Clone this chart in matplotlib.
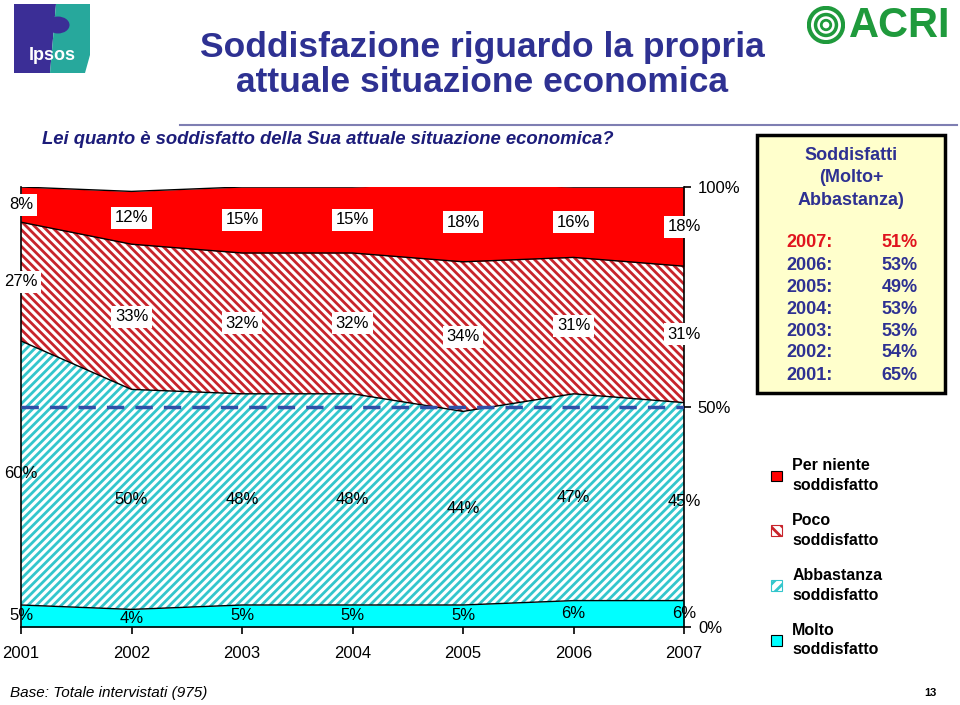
import numpy as np
import matplotlib.pyplot as plt
from matplotlib.patches import Rectangle, Polygon, Patch, Circle

plt.rcParams['font.family'] = ['Liberation Sans', 'DejaVu Sans']
plt.rcParams['hatch.linewidth'] = 2.0

# data (percent of respondents)
years = [2001, 2002, 2003, 2004, 2005, 2006, 2007]
molto = [5, 4, 5, 5, 5, 6, 6]
abbastanza = [60, 50, 48, 48, 44, 47, 45]
poco = [27, 33, 32, 32, 34, 31, 31]
per_niente = [8, 12, 15, 15, 18, 16, 18]
series_names = ['Molto\nsoddisfatto', 'Abbastanza\nsoddisfatto',
                'Poco\nsoddisfatto', 'Per niente\nsoddisfatto']

title = 'Soddisfazione riguardo la propria\nattuale situazione economica'
question = 'Lei quanto è soddisfatto della Sua attuale situazione economica?'
footer = 'Base: Totale intervistati (975)'

NAVY = '#2E3192'
W, H = 960, 705

fig = plt.figure(figsize=(9.6, 7.05), dpi=100)

def fx(px):
    return px / W

def fy(py):
    return 1 - py / H

# main stacked area
ax = fig.add_axes([fx(21), fy(627), fx(684) - fx(21), fy(187) - fy(627)])
ax.set_xlim(2001, 2007)
ax.set_ylim(0, 100)

layers = [molto, abbastanza, poco, per_niente]
face = ['#00FFFF', 'white', 'white', '#FF0000']
edge = ['#00FFFF', '#33C6CC', '#C8242B', '#FF0000']
hatch = [None, '////', '\\\\\\\\', None]
boxed = [False, False, True, True]

x = np.array(years)
bottom = np.zeros(len(years))
for vals, fc, ec, h, bx in zip(layers, face, edge, hatch, boxed):
    vals = np.array(vals)
    top = bottom + vals
    ax.fill_between(x, bottom, top, facecolor=fc, edgecolor=ec, hatch=h, linewidth=0)
    ax.plot(x, top, color='black', linewidth=1)
    mid = bottom + vals / 2
    for xi, yi, v in zip(x, mid, vals):
        kw = {}
        if bx:
            kw['bbox'] = dict(facecolor='white', edgecolor='none', pad=2.5)
        ax.text(xi, yi, f'{v}%', ha='center', va='center', fontsize=12, zorder=5, **kw)
    bottom = top

ax.plot([2001, 2007], [50, 50], color='#3050A8', linewidth=2.5, dashes=(5, 3.2), zorder=4)

ax.spines['top'].set_visible(False)
for s in ['left', 'right', 'bottom']:
    ax.spines[s].set_linewidth(1.2)
ax.yaxis.tick_right()
ax.set_yticks([0, 50, 100])
ax.set_yticklabels(['0%', '50%', '100%'])
ax.set_xticks(years)
ax.set_xticklabels([str(y) for y in years])
ax.tick_params(axis='y', direction='out', length=5, width=1.2, pad=5, labelsize=12)
ax.tick_params(axis='x', direction='out', length=5, width=1.2, pad=9, labelsize=12)

# legend
handles = [
    Patch(facecolor='#00FFFF', edgecolor='black', linewidth=0.8),
    Patch(facecolor='white', edgecolor='#33C6CC', hatch='///', linewidth=0.8),
    Patch(facecolor='white', edgecolor='#C8242B', hatch='\\\\\\', linewidth=0.8),
    Patch(facecolor='#FF0000', edgecolor='black', linewidth=0.8),
]
order = [3, 2, 1, 0]
leg = fig.legend([handles[i] for i in order], [series_names[i] for i in order],
                 loc='upper left', bbox_to_anchor=(fx(757), fy(444)), frameon=False,
                 handlelength=0.65, handleheight=0.65, handletextpad=0.65,
                 labelspacing=1.3, prop={'weight': 'bold', 'size': 11.5})
for t in leg.get_texts():
    t.set_linespacing(1.35)

# summary box (Molto + Abbastanza)
fig.patches.append(Rectangle((fx(757), fy(393)), fx(945) - fx(757), fy(135) - fy(393),
                             transform=fig.transFigure, facecolor='#FFFFCC',
                             edgecolor='black', linewidth=2.5))
fig.text(fx(851), fy(178), 'Soddisfatti\n(Molto+\nAbbastanza)', ha='center', va='center',
         color=NAVY, fontsize=13, fontweight='bold', linespacing=1.4)
satisfied = [m + a for m, a in zip(molto, abbastanza)]
for i, (yr, v) in enumerate(zip(years[::-1], satisfied[::-1])):
    c = '#E0141E' if i == 0 else NAVY
    ypx = 243 + i * 22
    fig.text(fx(786), fy(ypx), f'{yr}:', ha='left', va='center', color=c,
             fontsize=13, fontweight='bold')
    fig.text(fx(918), fy(ypx), f'{v}%', ha='right', va='center', color=c,
             fontsize=13, fontweight='bold')

# titles
fig.text(fx(482), fy(65), title, ha='center', va='center', color=NAVY,
         fontsize=25.5, fontweight='bold', linespacing=1.07)
fig.text(fx(42), fy(140), question, ha='left', va='center', color='#1C1C7A',
         fontsize=13.3, fontweight='bold', style='italic')
fig.add_artist(plt.Line2D([fx(180), fx(957)], [fy(125), fy(125)], color='#7E7EB2', linewidth=1.5))
fig.text(fx(10), fy(693), footer, ha='left', va='center', fontsize=11, style='italic')
fig.text(fx(930), fy(693), '13', ha='center', va='center', fontsize=8, fontweight='bold')

# Ipsos logo
fig.patches.append(Polygon([(fx(14), fy(4)), (fx(56), fy(4)), (fx(50), fy(73)), (fx(14), fy(73))],
                           closed=True, transform=fig.transFigure, facecolor='#3B2E96', edgecolor='none'))
fig.patches.append(Polygon([(fx(56), fy(4)), (fx(90), fy(4)), (fx(90), fy(55)), (fx(85), fy(73)), (fx(50), fy(73))],
                           closed=True, transform=fig.transFigure, facecolor='#27A89C', edgecolor='none'))
fig.text(fx(52), fy(55), 'Ipsos', ha='center', va='center', color='white', fontsize=13, fontweight='bold')
fig.patches.append(Circle((fx(58), fy(25)), 0.012, transform=fig.transFigure,
                          facecolor='#3B2E96', edgecolor='none'))

# ACRI logo
lax = fig.add_axes([fx(806), fy(44), fx(846) - fx(806), fy(6) - fy(44)])
lax.set_xlim(-1, 1)
lax.set_ylim(-1, 1)
lax.set_aspect('equal')
lax.axis('off')
for r, w in [(0.9, 3), (0.55, 2.5), (0.25, 2)]:
    lax.add_patch(Circle((0, 0), r, facecolor='none', edgecolor='#1F9A3C', linewidth=w))
fig.text(fx(849), fy(26), 'ACRI', ha='left', va='center', color='#1F9A3C',
         fontsize=30, fontweight='bold')

fig.savefig('out.png', dpi=100)
